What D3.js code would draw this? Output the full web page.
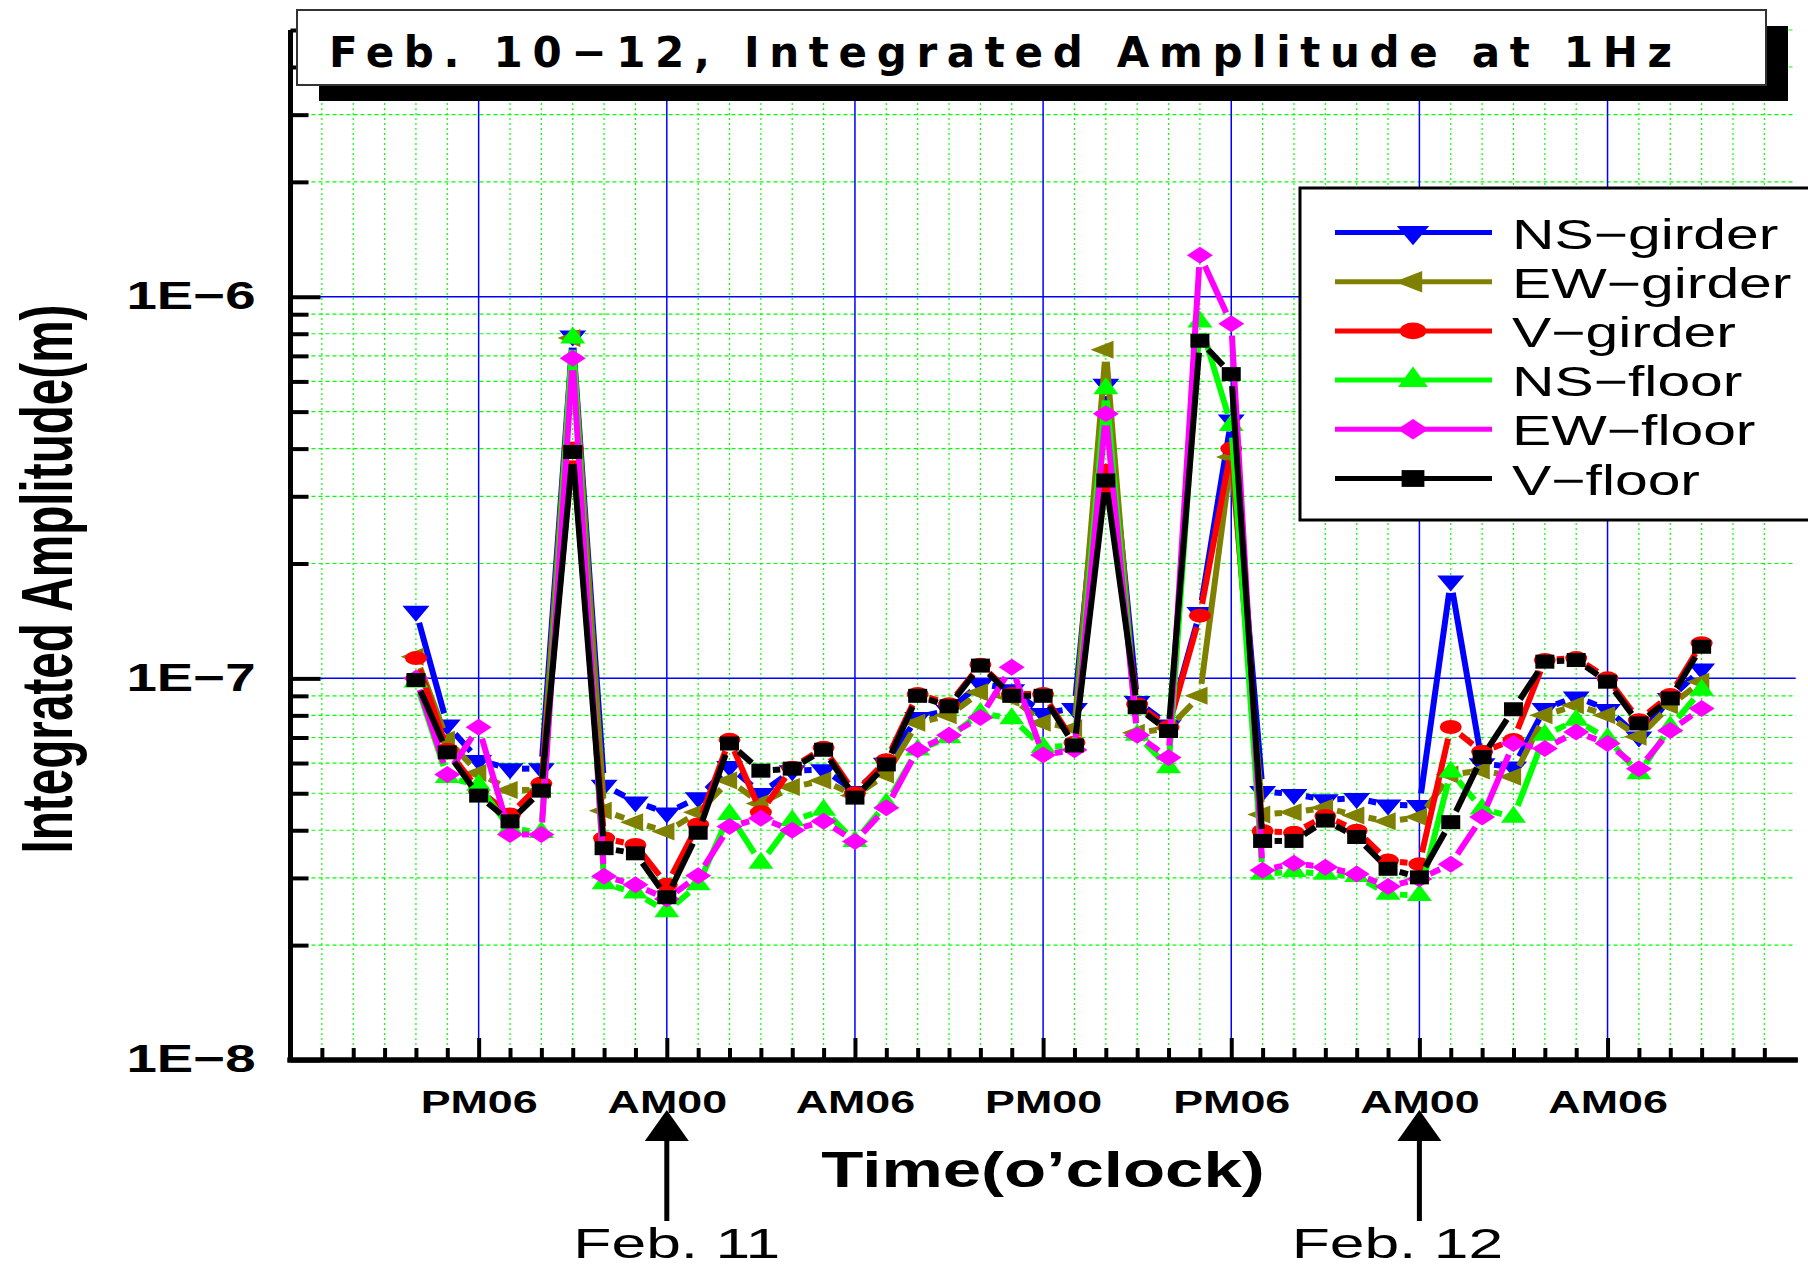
<!DOCTYPE html>
<html>
<head>
<meta charset="utf-8">
<script src="https://cdn.jsdelivr.net/npm/d3@7"></script>
<style>
  body { margin: 0; background: #fff; }
  svg { display: block; }
</style>
</head>
<body>
<svg></svg>
<script>
const width = 1808;
const height = 1270;

// hour counted from noon Feb 10
const hours = [4, 5, 6, 7, 8, 9, 10, 11, 12, 13, 14, 15, 16, 17, 18, 19, 20, 21, 22, 23, 24,
  25, 26, 27, 28, 29, 30, 31, 32, 33, 34, 35, 36, 37, 38, 39, 40, 41, 42, 43, 44, 45];

const nsGirder = [1.50e-7, 7.55e-8, 6.1e-8, 5.8e-8, 5.8e-8, 7.9e-7, 5.25e-8, 4.75e-8, 4.44e-8, 4.87e-8,
  5.88e-8, 5.0e-8, 5.73e-8, 5.77e-8, 5.06e-8, 6.0e-8, 7.9e-8, 8.25e-8, 9.7e-8, 9.35e-8, 8.1e-8,
  8.35e-8, 5.9e-7, 8.7e-8, 7.55e-8, 1.49e-7, 4.76e-7, 5.06e-8, 4.97e-8, 4.81e-8, 4.85e-8, 4.66e-8,
  4.65e-8, 1.8e-7, 5.98e-8, 5.86e-8, 8.34e-8, 8.95e-8, 8.29e-8, 7.03e-8, 8.86e-8, 1.06e-7];
const ewGirder = [1.14e-7, 6.9e-8, 5.65e-8, 5.1e-8, 5.1e-8, 7.8e-7, 4.5e-8, 4.2e-8, 3.97e-8, 4.46e-8,
  5.4e-8, 4.7e-8, 5.19e-8, 5.4e-8, 4.93e-8, 5.6e-8, 7.65e-8, 8.0e-8, 9.2e-8, 8.9e-8, 7.65e-8,
  7.4e-8, 7.26e-7, 7.2e-8, 7.4e-8, 9.0e-8, 3.8e-7, 4.4e-8, 4.46e-8, 4.58e-8, 4.37e-8, 4.22e-8,
  4.33e-8, 5.6e-8, 5.74e-8, 5.52e-8, 8.0e-8, 8.5e-8, 8.0e-8, 7.03e-8, 8.5e-8, 9.8e-8];
const vGirder = [1.13e-7, 6.5e-8, 5.1e-8, 4.4e-8, 5.3e-8, 4.0e-7, 3.81e-8, 3.66e-8, 2.88e-8, 4.14e-8,
  6.9e-8, 4.46e-8, 5.83e-8, 6.58e-8, 5.0e-8, 6.1e-8, 9.1e-8, 8.56e-8, 1.086e-7, 9.1e-8, 9.1e-8,
  6.78e-8, 3.5e-7, 8.56e-8, 7.46e-8, 1.46e-7, 4.0e-7, 3.98e-8, 3.94e-8, 4.36e-8, 3.99e-8, 3.33e-8,
  3.26e-8, 7.46e-8, 6.42e-8, 6.89e-8, 1.117e-7, 1.13e-7, 1.0e-7, 7.77e-8, 9.04e-8, 1.236e-7];
const nsFloor = [9.8e-8, 5.5e-8, 5.25e-8, 4.04e-8, 3.95e-8, 7.8e-7, 2.9e-8, 2.74e-8, 2.45e-8, 2.88e-8,
  4.4e-8, 3.28e-8, 4.24e-8, 4.52e-8, 3.74e-8, 4.7e-8, 6.5e-8, 7.0e-8, 8.1e-8, 7.85e-8, 6.6e-8,
  6.67e-8, 5.75e-7, 7.1e-8, 5.84e-8, 8.6e-7, 4.6e-7, 3.07e-8, 3.12e-8, 3.07e-8, 3.03e-8, 2.72e-8,
  2.7e-8, 5.69e-8, 4.55e-8, 4.33e-8, 7.1e-8, 7.77e-8, 6.95e-8, 5.63e-8, 7.46e-8, 9.32e-8];
const ewFloor = [1.0e-7, 5.6e-8, 7.45e-8, 3.9e-8, 3.9e-8, 6.9e-7, 3.03e-8, 2.88e-8, 2.64e-8, 3.04e-8,
  4.09e-8, 4.3e-8, 4.0e-8, 4.22e-8, 3.74e-8, 4.58e-8, 6.5e-8, 7.1e-8, 7.9e-8, 1.07e-7, 6.3e-8,
  6.5e-8, 4.94e-7, 7.1e-8, 6.2e-8, 1.285e-6, 8.5e-7, 3.14e-8, 3.28e-8, 3.2e-8, 3.07e-8, 2.85e-8,
  2.98e-8, 3.26e-8, 4.33e-8, 6.75e-8, 6.55e-8, 7.24e-8, 6.75e-8, 5.8e-8, 7.3e-8, 8.34e-8];
const vFloor = [9.9e-8, 6.4e-8, 4.93e-8, 4.22e-8, 5.08e-8, 3.92e-7, 3.59e-8, 3.48e-8, 2.67e-8, 3.94e-8,
  6.75e-8, 5.73e-8, 5.8e-8, 6.5e-8, 4.87e-8, 5.95e-8, 9.0e-8, 8.45e-8, 1.08e-7, 9.0e-8, 9.0e-8,
  6.67e-8, 3.3e-7, 8.4e-8, 7.28e-8, 7.67e-7, 6.27e-7, 3.75e-8, 3.75e-8, 4.24e-8, 3.84e-8, 3.17e-8,
  3.01e-8, 4.2e-8, 6.22e-8, 8.3e-8, 1.106e-7, 1.117e-7, 9.8e-8, 7.62e-8, 8.86e-8, 1.21e-7];

const seriesNames = ["NS−girder", "EW−girder", "V−girder", "NS−floor", "EW−floor", "V−floor"];
const seriesValues = [nsGirder, ewGirder, vGirder, nsFloor, ewFloor, vFloor];
const seriesColors = ["#0000ff", "#808000", "#ff0000", "#00ff00", "#ff00ff", "#000000"];
const seriesShapes = ["down", "left", "circle", "up", "diamond", "square"];

const xTickHours = [6, 12, 18, 24, 30, 36, 42];
const xTickLabels = ["PM06", "AM00", "AM06", "PM00", "PM06", "AM00", "AM06"];
const yMajor = [1e-8, 1e-7, 1e-6];
const yTickLabels = ["1E−8", "1E−7", "1E−6"];
const arrowHours = [12, 36];
const arrowLabels = ["Feb. 11", "Feb. 12"];

const titleText = "Feb. 10−12, Integrated Amplitude at 1Hz";
const xTitle = "Time(o’clock)";
const yTitle = "Integrated Amplitude(m)";

const svg = d3.select("svg")
  .attr("width", width)
  .attr("height", height)
  .style("font-family", "'Liberation Sans', Arial, sans-serif");

svg.append("rect").attr("width", width).attr("height", height).attr("fill", "#fff");

const x = d3.scaleLinear().domain([0, 48]).range([290.5, 1795.7]);
const y = d3.scaleLog().domain([1e-8, 5e-6]).range([1060, 30]);

// stretch text horizontally, like the original picture
function stretch(sel, k) {
  sel.each(function () {
    const w = this.getComputedTextLength();
    d3.select(this).attr("textLength", w * k).attr("lengthAdjust", "spacingAndGlyphs");
  });
}

// grid
const grid = svg.append("g");
const minorHours = d3.range(1, 48).filter(h => h % 6 !== 0);
const yAll = y.ticks();
const yMinor = yAll.filter(v => !yMajor.some(m => Math.abs(m - v) / m < 1e-6));

grid.selectAll(".vminor").data(minorHours).join("line")
  .attr("x1", d => x(d)).attr("x2", d => x(d))
  .attr("y1", y(1e-8)).attr("y2", y(5e-6))
  .attr("stroke", "#00ff00").attr("stroke-width", 1.2)
  .attr("stroke-dasharray", "2,3");
grid.selectAll(".hminor").data(yMinor).join("line")
  .attr("x1", x(0)).attr("x2", x(48))
  .attr("y1", d => y(d)).attr("y2", d => y(d))
  .attr("stroke", "#00ff00").attr("stroke-width", 1.2)
  .attr("stroke-dasharray", "4,3");
grid.selectAll(".vmajor").data(xTickHours).join("line")
  .attr("x1", d => x(d)).attr("x2", d => x(d))
  .attr("y1", y(1e-8)).attr("y2", y(5e-6))
  .attr("stroke", "#0000ff").attr("stroke-width", 1.5);
grid.selectAll(".hmajor").data(yMajor.slice(1)).join("line")
  .attr("x1", x(0)).attr("x2", x(48))
  .attr("y1", d => y(d)).attr("y2", d => y(d))
  .attr("stroke", "#0000ff").attr("stroke-width", 1.5);

// axes
const gx = svg.append("g").attr("transform", `translate(0,${y(1e-8)})`);
gx.call(d3.axisBottom(x).tickValues(minorHours).tickSize(-12).tickSizeOuter(0).tickFormat(""));
gx.append("g").call(d3.axisBottom(x).tickValues(xTickHours).tickSize(-22).tickSizeOuter(0)
  .tickFormat((d, i) => xTickLabels[i]));
gx.selectAll(".domain").attr("stroke", "#000").attr("stroke-width", 5)
  .attr("d", `M${x(0) - 3},0H${x(48) + 2}`);
gx.selectAll(".tick line").attr("stroke", "#000").attr("stroke-width", 4);
const xLabels = gx.selectAll(".tick text")
  .attr("y", 53).attr("dy", null)
  .attr("fill", "#000")
  .style("font-size", "32px").style("font-weight", "bold")
  .style("font-family", "'Liberation Sans', Arial, sans-serif");
stretch(xLabels, 1.4);

const gy = svg.append("g").attr("transform", `translate(${x(0)},0)`);
gy.call(d3.axisLeft(y).tickValues(yMinor).tickSize(-18).tickSizeOuter(0).tickFormat(""));
gy.append("g").call(d3.axisLeft(y).tickValues(yMajor).tickSize(-30).tickSizeOuter(0)
  .tickFormat((d, i) => yTickLabels[i]));
gy.selectAll(".domain").attr("stroke", "#000").attr("stroke-width", 5)
  .attr("d", `M0,${y(5e-6)}V${y(1e-8) + 2}`);
gy.selectAll(".tick line").attr("stroke", "#000").attr("stroke-width", 4);
const yLabels = gy.selectAll(".tick text")
  .attr("x", -35).attr("dy", "0.3em")
  .attr("fill", "#000")
  .style("font-size", "39px").style("font-weight", "bold")
  .style("font-family", "'Liberation Sans', Arial, sans-serif");
stretch(yLabels, 1.4);

// markers
function shapePath(shape, w, h) {
  switch (shape) {
    case "down": return `M${-w / 2},${-h / 3}L${w / 2},${-h / 3}L0,${2 * h / 3}Z`;
    case "up": return `M${-w / 2},${h / 3}L${w / 2},${h / 3}L0,${-2 * h / 3}Z`;
    case "left": return `M${-2 * w / 3},0L${w / 3},${-h / 2}L${w / 3},${h / 2}Z`;
    case "diamond": return `M${-w / 2},0L0,${-h / 2}L${w / 2},0L0,${h / 2}Z`;
    case "square": return `M${-w / 2},${-h / 2}h${w}v${h}h${-w}Z`;
    default: return `M${-w / 2},0A${w / 2},${h / 2} 0 1 0 ${w / 2},0A${w / 2},${h / 2} 0 1 0 ${-w / 2},0Z`;
  }
}
const markerSize = {
  down: [27, 16], left: [23, 18], circle: [22, 14], up: [25, 17], diamond: [26, 17], square: [19, 14]
};

// series: segments stop short of each point, then markers on top
const gap = 12;
const plot = svg.append("g");
seriesValues.forEach((vals, si) => {
  const pts = vals.map((v, i) => [x(hours[i]), y(v)]);
  const segs = [];
  for (let i = 0; i < pts.length - 1; i++) {
    const [x0, y0] = pts[i], [x1, y1] = pts[i + 1];
    const L = Math.hypot(x1 - x0, y1 - y0);
    if (L <= 2 * gap) continue;
    const ux = (x1 - x0) / L, uy = (y1 - y0) / L;
    segs.push([x0 + ux * gap, y0 + uy * gap, x1 - ux * gap, y1 - uy * gap]);
  }
  const g = plot.append("g");
  g.selectAll("line").data(segs).join("line")
    .attr("x1", d => d[0]).attr("y1", d => d[1])
    .attr("x2", d => d[2]).attr("y2", d => d[3])
    .attr("stroke", seriesColors[si]).attr("stroke-width", 6);
  const [mw, mh] = markerSize[seriesShapes[si]];
  g.selectAll("path").data(pts).join("path")
    .attr("transform", d => `translate(${d[0]},${d[1]})`)
    .attr("d", shapePath(seriesShapes[si], mw, mh))
    .attr("fill", seriesColors[si]);
});

// legend
const legend = svg.append("g");
legend.append("rect")
  .attr("x", 1300).attr("y", 188).attr("width", 560).attr("height", 332)
  .attr("fill", "#fff").attr("stroke", "#000").attr("stroke-width", 3);
seriesNames.forEach((name, i) => {
  const ly = 232.5 + i * 49.2;
  legend.append("line")
    .attr("x1", 1335).attr("x2", 1492).attr("y1", ly).attr("y2", ly)
    .attr("stroke", seriesColors[i]).attr("stroke-width", 5);
  const [mw, mh] = markerSize[seriesShapes[i]];
  legend.append("path")
    .attr("transform", `translate(1413,${ly})`)
    .attr("d", shapePath(seriesShapes[i], mw * 1.2, mh * 1.2))
    .attr("fill", seriesColors[i]);
  const t = legend.append("text")
    .attr("x", 1512).attr("y", ly + 16)
    .style("font-size", "42px")
    .text(name);
  stretch(t, 1.4);
});

// title box with shadow
svg.append("rect").attr("x", 319).attr("y", 26).attr("width", 1469).attr("height", 75)
  .attr("fill", "#000");
svg.append("rect").attr("x", 297).attr("y", 10).attr("width", 1469).attr("height", 75)
  .attr("fill", "#fff").attr("stroke", "#333").attr("stroke-width", 2);
svg.append("text")
  .attr("x", 329).attr("y", 67)
  .style("font-family", "'DejaVu Sans', sans-serif")
  .style("font-size", "42px").style("font-weight", "bold")
  .attr("textLength", 1343).attr("lengthAdjust", "spacing")
  .text(titleText);

// axis titles
const xt = svg.append("text")
  .attr("x", x(24)).attr("y", 1187)
  .attr("text-anchor", "middle")
  .style("font-size", "50px").style("font-weight", "bold")
  .text(xTitle);
stretch(xt, 1.38);

svg.append("text")
  .attr("transform", "translate(72,579) rotate(-90)")
  .attr("text-anchor", "middle")
  .style("font-size", "72px").style("font-weight", "bold")
  .attr("textLength", 549).attr("lengthAdjust", "spacingAndGlyphs")
  .text(yTitle);

// day arrows
const labelShift = [10, -22];
arrowHours.forEach((h, i) => {
  const ax = x(h);
  svg.append("path")
    .attr("d", `M${ax},1110L${ax + 22},1141L${ax - 22},1141Z`)
    .attr("fill", "#000");
  svg.append("line")
    .attr("x1", ax).attr("x2", ax).attr("y1", 1140).attr("y2", 1221)
    .attr("stroke", "#000").attr("stroke-width", 5);
  const t = svg.append("text")
    .attr("x", ax + labelShift[i]).attr("y", 1258)
    .attr("text-anchor", "middle")
    .style("font-size", "43px")
    .text(arrowLabels[i]);
  stretch(t, 1.45);
});
</script>
</body>
</html>
